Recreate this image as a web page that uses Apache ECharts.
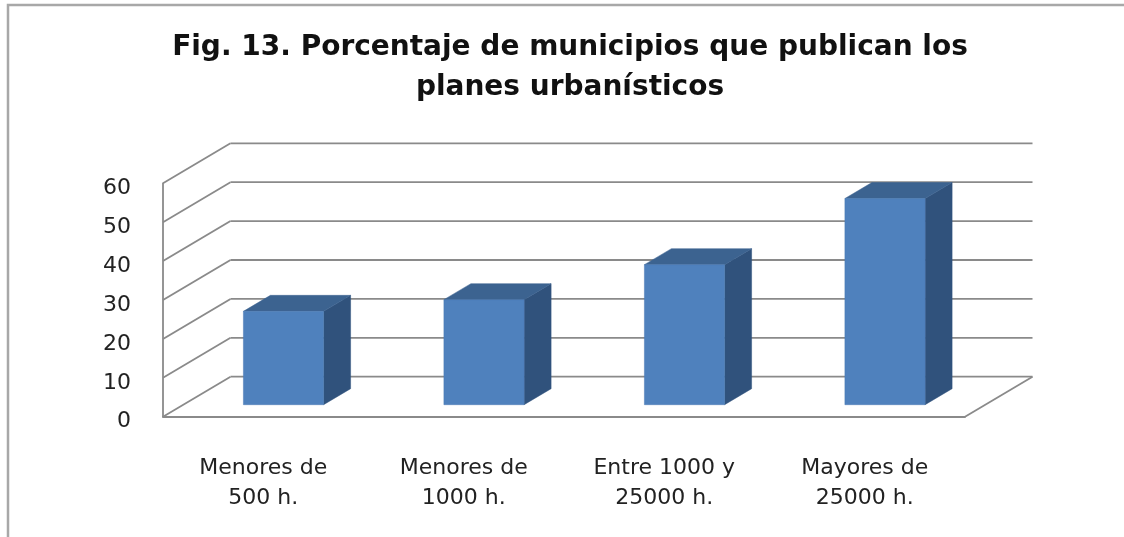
<!DOCTYPE html>
<html>
<head>
<meta charset="utf-8">
<script src="https://cdn.jsdelivr.net/npm/echarts@6/dist/echarts.min.js"></script>
<style>
html,body{margin:0;padding:0;background:#fff;}
#chart{width:1124px;height:537px;}
</style>
</head>
<body>
<div id="chart"></div>
<script>
// ---- data ----
const titleText = 'Fig. 13. Porcentaje de municipios que publican los\nplanes urbanísticos';
const categories = ['Menores de\n500 h.', 'Menores de\n1000 h.', 'Entre 1000 y\n25000 h.', 'Mayores de\n25000 h.'];
const values = [24, 27, 36, 53];
const yTicks = [0, 10, 20, 30, 40, 50, 60];

// ---- 3D look (pixel depth of the box) ----
const DX = 67.5, DY = -40;        // full depth offset of the back wall
const D0 = 0.3, D1 = 0.7;         // depth range occupied by the bars
const BAR_HALF = 0.2;             // half bar width as fraction of band
const GRID_COLOR = '#8a8a8a';

const chart = echarts.init(document.getElementById('chart'), null, {renderer: 'canvas'});

const option = {
  backgroundColor: '#ffffff',
  animation: false,
  title: {
    text: titleText,
    left: 570,
    textAlign: 'center',
    top: 28,
    padding: 0,
    textStyle: {
      fontFamily: 'DejaVu Sans',
      fontWeight: 'bold',
      fontSize: 28,
      lineHeight: 40,
      color: '#111111'
    }
  },
  graphic: [{
    type: 'polyline',
    silent: true,
    shape: {points: [[8, 537], [8, 5], [1124, 5]]},
    style: {stroke: '#a8a8a8', lineWidth: 2.5, fill: null}
  }],
  grid: {left: 163, right: 159, top: 183.3, bottom: 120.3, containLabel: false},
  xAxis: {
    type: 'category',
    data: categories,
    axisLine: {show: true, lineStyle: {color: GRID_COLOR, width: 1.8}},
    axisTick: {show: false},
    splitLine: {show: false},
    axisLabel: {
      margin: 37,
      fontFamily: 'DejaVu Sans',
      fontSize: 22,
      lineHeight: 30,
      color: '#222222',
      interval: 0
    }
  },
  yAxis: {
    type: 'value',
    min: 0,
    max: 60,
    interval: 10,
    axisLine: {show: true, lineStyle: {color: GRID_COLOR, width: 1.8}},
    axisTick: {show: false},
    splitLine: {show: false},
    axisLabel: {
      margin: 32,
      color: '#222222',
      formatter: function (v) { return yTicks.indexOf(v) >= 0 ? '{t|' + v + '}' : ''; },
      rich: {
        t: {
          fontFamily: 'DejaVu Sans',
          fontSize: 22,
          color: '#222222',
          padding: [10, 0, 0, 0]
        }
      }
    }
  },
  series: [
    {
      // walls and gridlines of the 3D box
      type: 'custom',
      silent: true,
      z: 1,
      data: yTicks.map(function (t) { return [0, t]; }),
      renderItem: function (params, api) {
        const cs = params.coordSys;
        const x0 = cs.x, x1 = cs.x + cs.width;
        const y = api.coord([0, api.value(1)])[1];
        const style = {stroke: GRID_COLOR, lineWidth: 1.8, fill: null};
        const children = [
          {type: 'line', shape: {x1: x0, y1: y, x2: x0 + DX, y2: y + DY}, style: style},
          {type: 'line', shape: {x1: x0 + DX, y1: y + DY, x2: x1 + DX, y2: y + DY}, style: style}
        ];
        if (api.value(1) === 0) {
          children.push({type: 'line', shape: {x1: x1, y1: y, x2: x1 + DX, y2: y + DY}, style: style});
        }
        return {type: 'group', children: children};
      }
    },
    {
      // 3D bars
      type: 'custom',
      z: 2,
      data: values.map(function (v, i) { return [i, v]; }),
      renderItem: function (params, api) {
        const idx = api.value(0);
        const v = api.value(1);
        const base = api.coord([idx, 0]);
        const top = api.coord([idx, v]);
        const band = api.size([1, 0])[0];
        const hw = band * BAR_HALF;
        const ox0 = DX * D0, oy0 = DY * D0, ox1 = DX * D1, oy1 = DY * D1;
        const xl = base[0] - hw, xr = base[0] + hw;
        const yb = base[1], yt = top[1];
        return {
          type: 'group',
          children: [
            {
              type: 'polygon',
              shape: {points: [[xr + ox0, yb + oy0], [xr + ox0, yt + oy0], [xr + ox1, yt + oy1], [xr + ox1, yb + oy1]]},
              style: {fill: '#30527c', stroke: '#30527c', lineWidth: 0.5}
            },
            {
              type: 'polygon',
              shape: {points: [[xl + ox0, yt + oy0], [xr + ox0, yt + oy0], [xr + ox1, yt + oy1], [xl + ox1, yt + oy1]]},
              style: {fill: '#3c6390', stroke: '#3c6390', lineWidth: 0.5}
            },
            {
              type: 'rect',
              shape: {x: xl + ox0, y: yt + oy0, width: xr - xl, height: yb - yt},
              style: {fill: '#4f81bd', stroke: '#4a7ab4', lineWidth: 0.5}
            }
          ]
        };
      }
    }
  ]
};

chart.setOption(option);
</script>
</body>
</html>
